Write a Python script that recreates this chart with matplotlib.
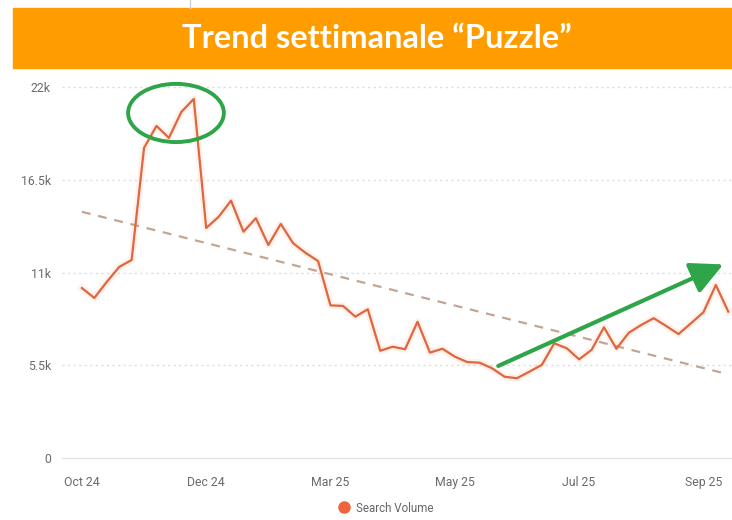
import numpy as np
import matplotlib
matplotlib.use("Agg")
import matplotlib.pyplot as plt
from matplotlib.patches import Rectangle, Ellipse, FancyArrowPatch
from matplotlib.lines import Line2D

# weekly search volume, Oct 24 -> Sep 25
volume = [10080, 9490, 10440, 11330, 11740, 18390, 19690, 18980, 20520, 21290,
          13640, 14300, 15260, 13420, 14220, 12630, 13880, 12730, 12160, 11680,
          9050, 9020, 8380, 8820, 6360, 6600, 6450, 8080, 6250, 6480,
          6010, 5690, 5650, 5320, 4820, 4730, 5120, 5520, 6800, 6510,
          5850, 6410, 7750, 6480, 7430, 7890, 8290, 7830, 7350, 7990,
          8640, 10260, 8680]
tick_idx = [0, 10, 20, 30, 40, 50]
tick_lbl = ["Oct 24", "Dec 24", "Mar 25", "May 25", "Jul 25", "Sep 25"]
y_ticks = [0, 5500, 11000, 16500, 22000]
y_lbl = ["0", "5.5k", "11k", "16.5k", "22k"]

title = "Trend settimanale \u201cPuzzle\u201d"

plt.rcParams["font.family"] = ["Roboto", "DejaVu Sans"]

x = np.arange(len(volume))
coef = np.polyfit(x, volume, 1)
trend = np.polyval(coef, x)

fig = plt.figure(figsize=(7.32, 5.2), dpi=100)
fig.patch.set_facecolor("white")

# orange header band
fig.patches.append(Rectangle((13/732, 1-68/520), 719/732, 60/520,
                             transform=fig.transFigure, color="#ff9c00", zorder=0))
fig.text(377/732, 1-39/520, title, ha="center", va="center", color="white",
         fontsize=23.5, fontweight="bold", family="Lato")
fig.add_artist(Line2D([190/732, 190/732], [1, 1-8/520], transform=fig.transFigure,
                      color="#d0d0d0", lw=1))

ax = fig.add_axes([62/732, 62/520, 670/732, 371/520])
for s in ax.spines.values():
    s.set_visible(False)

for v in y_ticks[1:]:
    ax.axhline(v, color="#dcdcdc", lw=1, ls=(0, (1.5, 2.5)), clip_on=False, zorder=0)
ax.axhline(0, color="#e4e4e4", lw=1, clip_on=False, zorder=0)

# soft halo + line
ax.plot(x, volume, color="#f5a882", lw=5, alpha=0.16, solid_joinstyle="round", zorder=2)
ax.plot(x, volume, color="#de6640", lw=1.6, solid_joinstyle="round", zorder=3)
ax.plot(x, trend, color="#c2a592", lw=1.6, ls=(0, (4, 3.5)), zorder=2)

ax.set_xlim(-1.6, 52.3)
ax.set_ylim(0, 22000)
ax.set_xticks(tick_idx)
ax.set_xticklabels(tick_lbl)
ax.set_yticks(y_ticks)
ax.set_yticklabels(y_lbl)
ax.tick_params(length=0, colors="#6a6a6a", labelsize=8.8)
ax.tick_params(axis="x", pad=13)
ax.tick_params(axis="y", pad=8)

# green highlights
ax.add_patch(Ellipse((7.57, 20460), 7.7, 3450, fill=False, ec="#2fa54a", lw=2.8,
                     zorder=5, clip_on=False))
ax.add_patch(FancyArrowPatch((33.5, 5460), (51.6, 11480),
                             arrowstyle="-|>,head_length=0.9,head_width=0.45",
                             mutation_scale=22, color="#2fa54a", lw=3, zorder=5,
                             shrinkA=0, shrinkB=0, clip_on=False))

handle = Line2D([], [], marker="o", ls="", color="#f0643a", markersize=8)
fig.legend(handles=[handle], labels=["Search Volume"], loc="center",
           bbox_to_anchor=(383/732, 1-508/520), frameon=False, fontsize=8.3,
           labelcolor="#666666", handletextpad=0.1)

fig.savefig("out.png", dpi=100)
